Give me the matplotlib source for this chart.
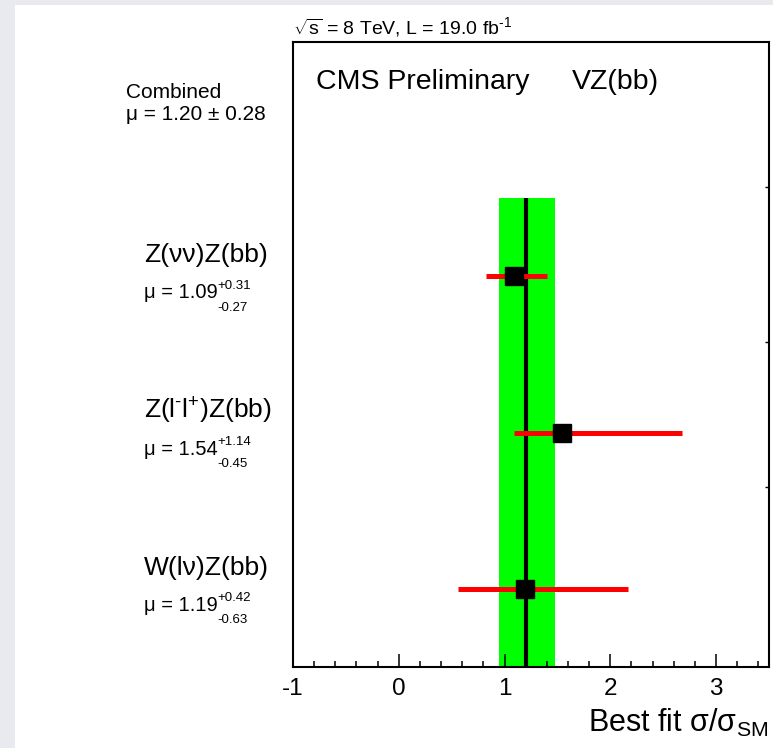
import matplotlib
matplotlib.use('Agg')
import matplotlib.pyplot as plt
import matplotlib.transforms as mtransforms
from matplotlib.patches import Rectangle
from matplotlib.ticker import MultipleLocator

plt.rcParams['font.family'] = 'Liberation Sans'
plt.rcParams['mathtext.fontset'] = 'custom'
plt.rcParams['mathtext.rm'] = 'Liberation Sans'
plt.rcParams['mathtext.it'] = 'Liberation Sans:italic'
plt.rcParams['mathtext.default'] = 'regular'
plt.rcParams['axes.unicode_minus'] = False

# channels from bottom to top
channels = ['W(lν)Z(bb)', r'Z(l$^{\text{-}}$l$^{+}$)Z(bb)', 'Z(νν)Z(bb)']
mu_text = ['1.19', '1.54', '1.09']
up_text = ['+0.42', '+1.14', '+0.31']
dn_text = ['-0.63', '-0.45', '-0.27']
mu = [1.19, 1.54, 1.09]
# bar extents as drawn in the picture
err_up = [0.98, 1.14, 0.31]
err_dn = [0.63, 0.45, 0.27]
rows = [0.5, 1.5, 2.5]

# combined result
comb_mu = 1.20
comb_dn = 0.25
comb_up = 0.28
comb_label = 'μ = 1.20 ± 0.28'

fig = plt.figure(figsize=(7.73, 7.48), dpi=100)
fig.patch.set_facecolor('#e9eaef')
fig.patches.append(Rectangle((15 / 773, 0), 1, 1 - 5 / 748, transform=fig.transFigure,
                             facecolor='white', edgecolor='none', zorder=-1))

ax = fig.add_axes([293 / 773, 1 - 667 / 748, 476 / 773, 625 / 748])
ax.set_zorder(1)
ax.set_xlim(-1, 3.5)
ax.set_ylim(0, 4)

# combined band and central value
ax.axvspan(comb_mu - comb_dn, comb_mu + comb_up, ymin=0, ymax=3 / 4, color='#00ff00', lw=0, zorder=1)
ax.plot([comb_mu, comb_mu], [0, 3], color='black', lw=3, zorder=2, solid_capstyle='butt')

# per-channel fits
ax.errorbar(mu, rows, xerr=[err_dn, err_up], fmt='none', ecolor='#ff0000', elinewidth=3.6,
            capsize=0, zorder=3)
ax.plot(mu, rows, 's', color='black', markersize=13, zorder=4)

# axis styling
for sp in ax.spines.values():
    sp.set_linewidth(1.5)
ax.xaxis.set_major_locator(MultipleLocator(1))
ax.xaxis.set_minor_locator(MultipleLocator(0.2))
ax.tick_params(axis='x', which='major', direction='in', length=9.5, width=1.1,
               labelsize=17.5, pad=8, top=False)
ax.tick_params(axis='x', which='minor', direction='in', length=4.5, width=1.1, top=False)
ax.set_yticks([1.15, 2.08, 3.07])
ax.tick_params(axis='y', which='both', left=False, labelleft=False, right=True,
               direction='in', length=3, width=1)
ax.yaxis.set_minor_locator(plt.NullLocator())

# labels to the left of the frame
blend = mtransforms.blended_transform_factory(ax.transAxes, ax.transData)
x_lab = (144 - 293) / 476
for name, r, m, u, d in zip(channels, rows, mu_text, up_text, dn_text):
    ax.text(x_lab, r + 0.09, name, transform=blend, ha='left', va='baseline',
            fontsize=19, clip_on=False)
    t = ax.text(x_lab, r - 0.141, 'μ = ' + m, transform=blend,
                ha='left', va='baseline', fontsize=14.5, clip_on=False)
    ax.annotate(u, xy=(1, r - 0.141), xycoords=(t, blend), xytext=(0, 9.0),
                textcoords='offset points', ha='left', va='center', fontsize=9.5,
                annotation_clip=False)
    ax.annotate(d, xy=(1, r - 0.141), xycoords=(t, blend), xytext=(0, -6.8),
                textcoords='offset points', ha='left', va='center', fontsize=9.5,
                annotation_clip=False)

x_comb = (126 - 293) / 476
ax.text(x_comb, 3.5 + 0.141, 'Combined', transform=blend, ha='left', va='baseline',
        fontsize=15, clip_on=False)
ax.text(x_comb, 3.5, comb_label, transform=blend, ha='left', va='baseline',
        fontsize=15, clip_on=False)

ax.text((316 - 293) / 476, (667 - 89) / 625, 'CMS Preliminary', transform=ax.transAxes,
        ha='left', va='baseline', fontsize=20.5)
ax.text((572 - 293) / 476, (667 - 89) / 625, 'VZ(bb)', transform=ax.transAxes,
        ha='left', va='baseline', fontsize=20.5)
ax.text(0, (667 - 34) / 625, r'$\sqrt{s}$ = 8 TeV, L = 19.0 fb$^{\text{-1}}$', transform=ax.transAxes,
        ha='left', va='baseline', fontsize=14, clip_on=False)

fig.text(768 / 773, 1 - 732 / 748, 'Best fit σ/σ$_{SM}$', ha='right', va='baseline', fontsize=22)

fig.savefig('out.png', dpi=100, facecolor=fig.get_facecolor())
